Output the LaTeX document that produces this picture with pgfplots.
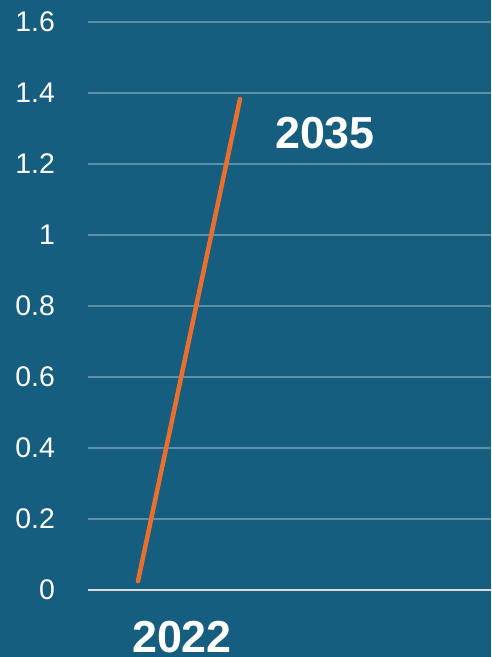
\documentclass[border=0pt]{standalone}
\usepackage{pgfplots}
\pgfplotsset{compat=1.18}
\usepackage{fontspec}
\setmainfont{Liberation Sans}
\definecolor{bg}{HTML}{165E80}
\definecolor{gridc}{HTML}{5C90AB}
\definecolor{lineor}{HTML}{EA6F2C}
\definecolor{axc}{HTML}{DDDDDD}
\begin{document}
\begin{tikzpicture}
\fill[bg] (0,0) rectangle (491bp,657bp);
\begin{axis}[
  at={(88bp,67bp)}, anchor=south west,
  scale only axis, width=403bp, height=568bp,
  xmin=0, xmax=403, ymin=0, ymax=1.6,
  axis x line*=bottom, axis y line*=left,
  x axis line style={draw=axc, line width=1.8bp},
  y axis line style={draw=none},
  xtick=\empty,
  ytick={0,0.2,0.4,0.6,0.8,1,1.2,1.4,1.6},
  yticklabels={0,0.2,0.4,0.6,0.8,1,1.2,1.4,1.6},
  major tick length=0pt,
  ymajorgrids, grid style={draw=gridc, line width=1.2bp},
  yticklabel style={font=\fontsize{28.5}{30}\selectfont, text=white, anchor=east, inner sep=0pt, xshift=-33bp},
  clip=false,
]
\addplot[draw=lineor, line width=4.5bp, line cap=round] coordinates {(50,0.025) (152,1.383)};
\node[font=\bfseries\fontsize{45}{50}\selectfont, text=white, anchor=base, inner sep=0pt] at (axis cs:94,-0.176) {2022};
\node[font=\bfseries\fontsize{45}{50}\selectfont, text=white, anchor=base, inner sep=0pt] at (axis cs:237,1.245) {2035};
\end{axis}
\end{tikzpicture}
\end{document}
